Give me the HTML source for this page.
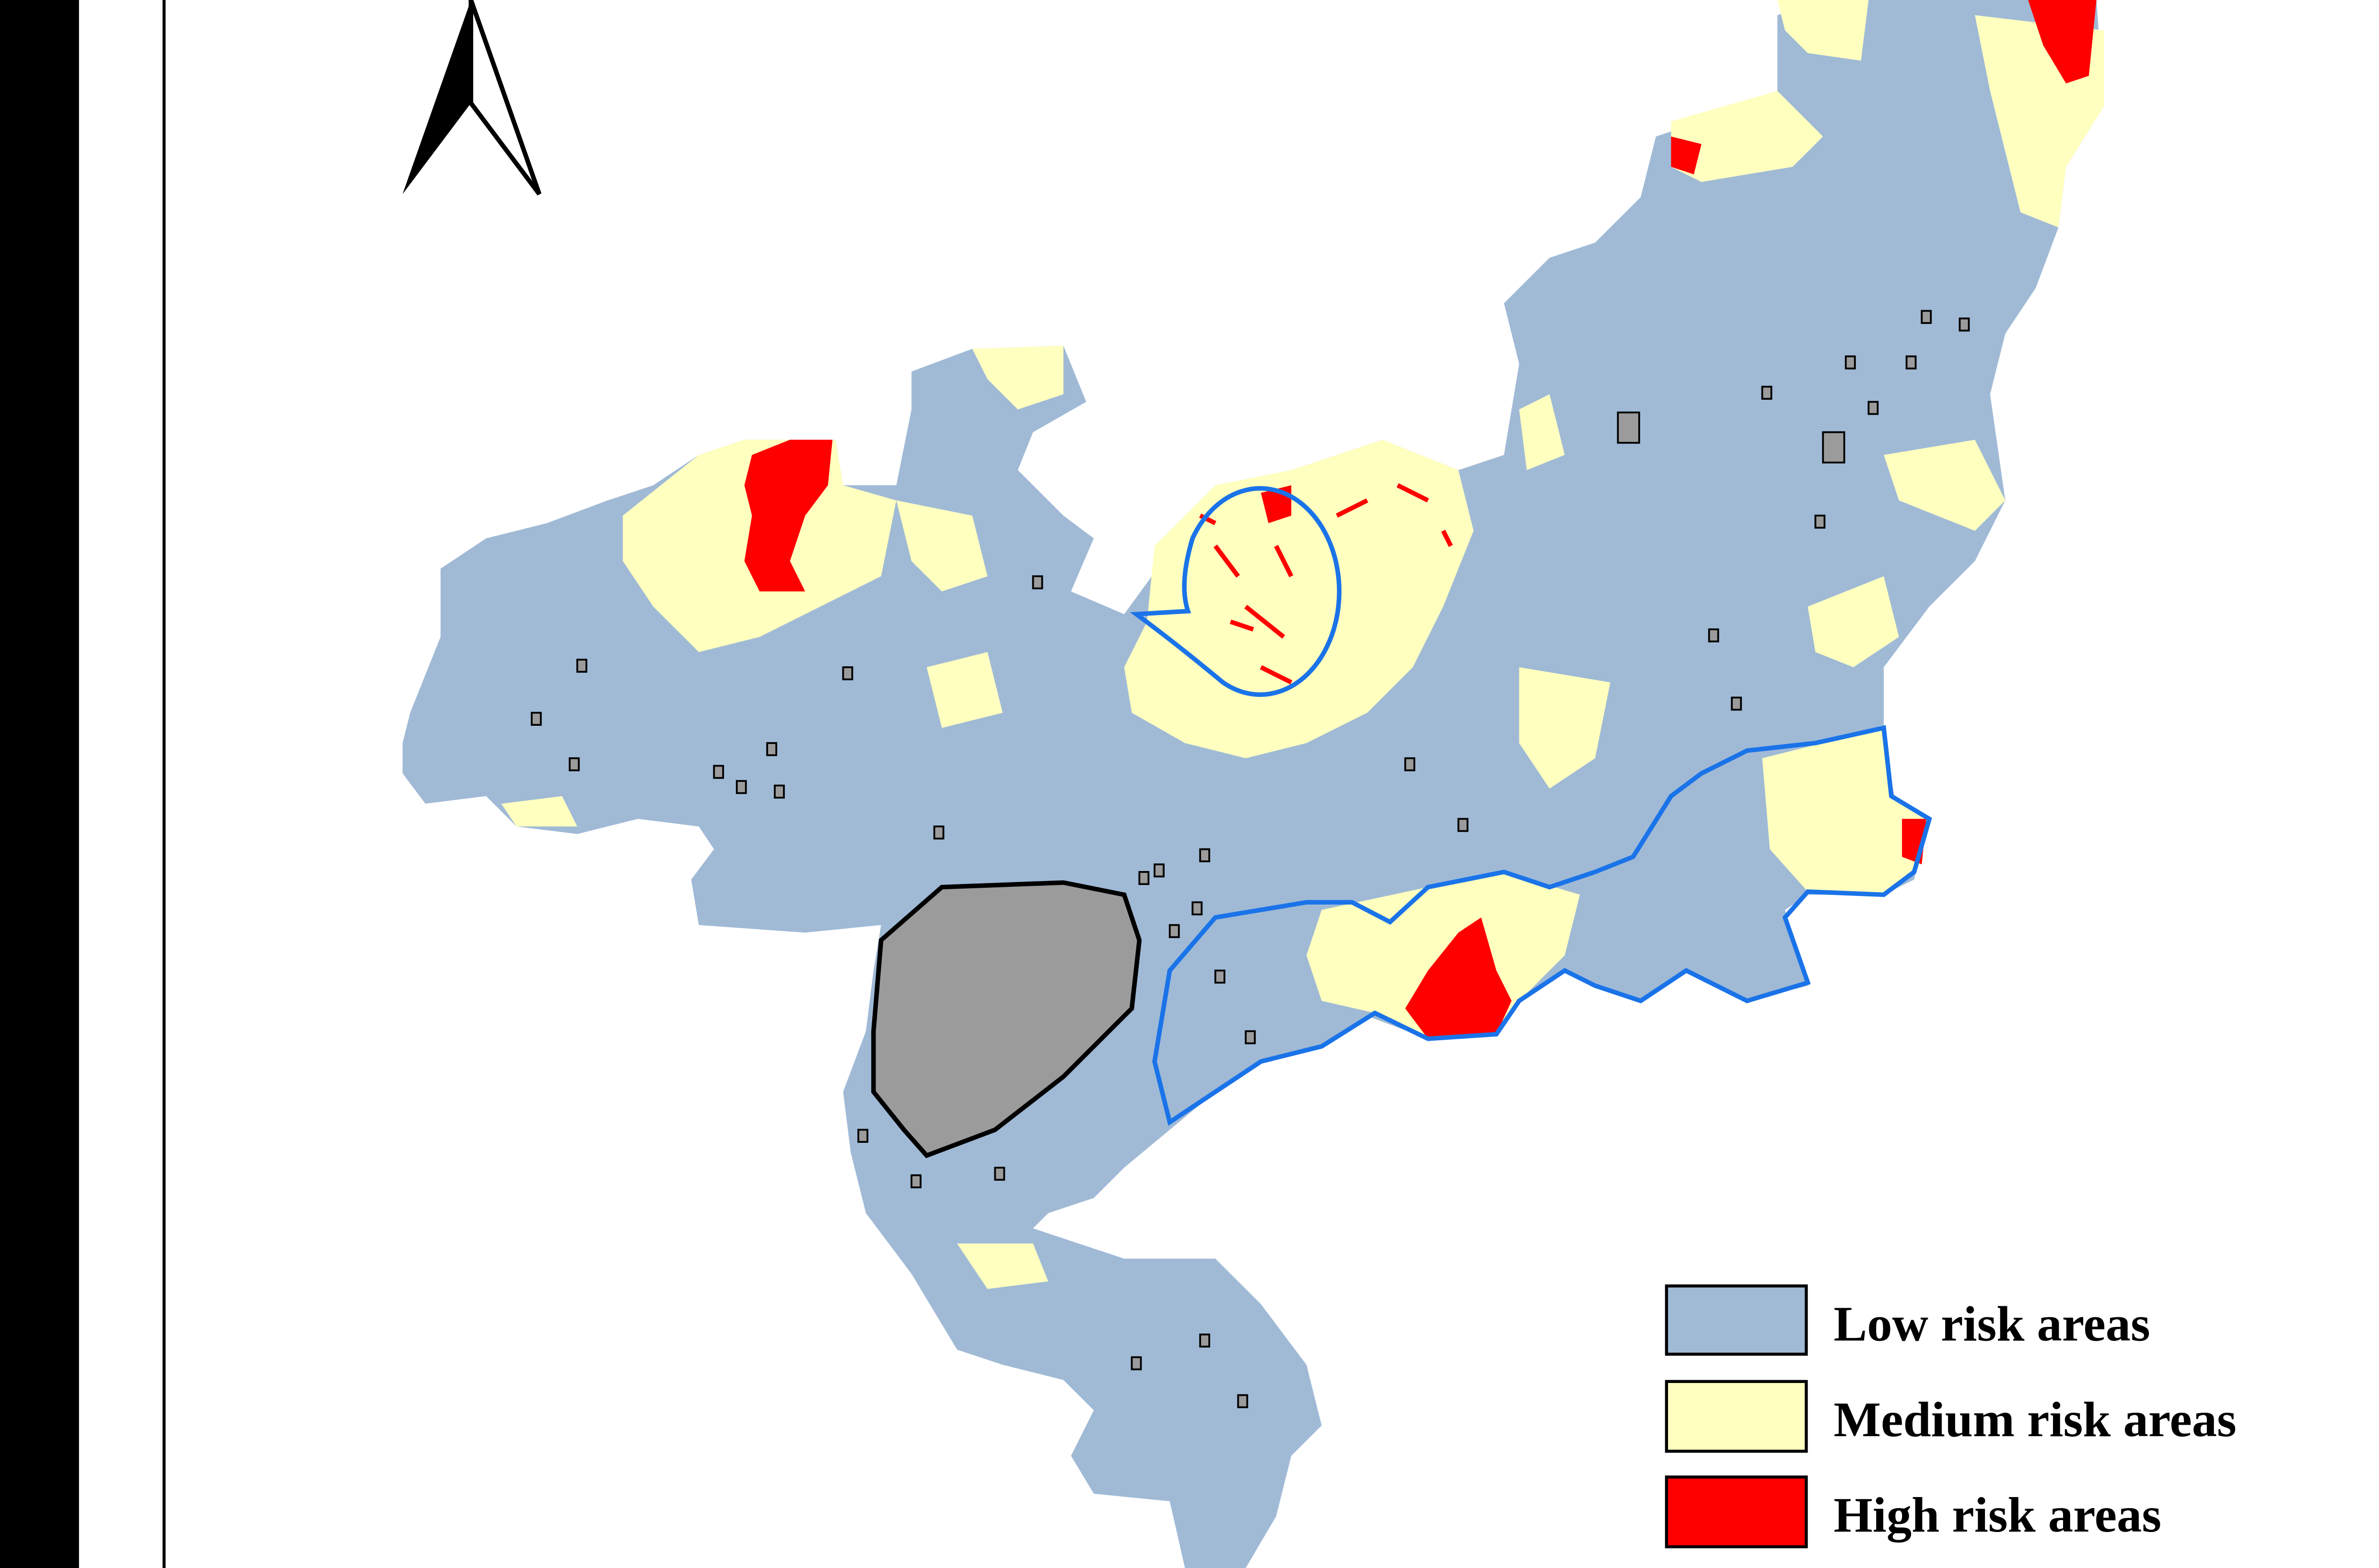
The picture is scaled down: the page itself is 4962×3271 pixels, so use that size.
<!DOCTYPE html>
<html><head><meta charset="utf-8"><style>
html,body{margin:0;padding:0;background:#fff;}
svg{display:block;}
</style></head><body>
<svg width="4962" height="3271" viewBox="0 0 1566 1034" preserveAspectRatio="none" xmlns="http://www.w3.org/2000/svg">
<rect x="0" y="0" width="1566" height="1034" fill="#fff"/>
<rect x="0" y="0" width="52" height="1034" fill="#000"/>
<line x1="108" y1="0" x2="108" y2="1034" stroke="#000" stroke-width="2"/>

<g>
<polygon points="310,0 265,128 310,68" fill="#000"/>
<polygon points="310,0 355,128 310,68" fill="#fff" stroke="#000" stroke-width="3"/>
</g>

<polygon fill="#a0bad6" points="265,490 270,470 290,420 290,375 320,355 360,345 400,330 430,320 460,300 490,290 550,290 555,320 590,320 600,270 600,245 640,230 700,228 715,265 680,285 670,310 700,340 720,355 705,390 740,405 780,350 800,320 850,310 880,300 910,290 960,310 990,300 1000,240 990,200 1020,170 1050,160 1080,130 1090,90 1120,80 1170,60 1170,10 1200,0 1380,0 1385,70 1360,110 1355,150 1340,190 1320,220 1310,260 1320,330 1300,370 1270,400 1240,440 1240,490 1250,540 1270,540 1260,580 1240,590 1190,590 1175,600 1190,650 1150,660 1110,640 1080,660 1050,650 1030,640 1000,660 980,680 940,685 900,670 870,690 830,700 800,720 770,745 740,770 720,790 690,800 680,810 740,830 800,830 830,860 860,900 870,940 850,960 840,1000 820,1034 780,1034 770,990 720,985 705,960 720,930 700,910 660,900 630,890 600,840 570,800 560,760 555,720 570,680 575,640 580,610 530,615 460,610 455,580 470,560 460,545 420,540 380,550 340,545 320,525 280,530 265,510"/>

<g fill="#ffffc0">
<polygon points="410,340 460,300 490,290 550,290 555,320 590,330 580,380 540,400 500,420 460,430 430,400 410,370"/>
<polygon points="590,330 640,340 650,380 620,390 600,370"/>
<polygon points="640,230 700,228 700,260 670,270 650,250"/>
<polygon points="760,360 800,320 850,310 880,300 910,290 960,310 970,350 950,400 930,440 900,470 860,490 820,500 780,490 745,470 740,440 755,410"/>
<polygon points="1100,80 1170,60 1200,90 1180,110 1120,120 1100,110"/>
<polygon points="1170,0 1230,0 1225,40 1190,35 1175,20"/>
<polygon points="1300,10 1385,20 1385,70 1360,110 1355,150 1330,140 1320,100 1310,60"/>
<polygon points="1240,300 1300,290 1320,330 1300,350 1250,330"/>
<polygon points="1190,400 1240,380 1250,420 1220,440 1195,430"/>
<polygon points="1000,440 1060,450 1050,500 1020,520 1000,490"/>
<polygon points="1160,500 1240,480 1245,525 1270,540 1260,575 1240,590 1190,588 1165,560"/>
<polygon points="870,600 940,585 990,575 1040,590 1030,630 1000,660 985,682 940,685 905,668 870,660 860,630"/>
<polygon points="630,820 680,820 690,845 650,850"/>
<polygon points="330,530 370,525 380,545 340,545"/>
<polygon points="1000,270 1020,260 1030,300 1005,310"/>
<polygon points="610,440 650,430 660,470 620,480"/>
</g>

<g fill="#f00">
<polygon points="495,300 520,290 548,290 545,320 530,340 520,370 530,390 500,390 490,370 495,340 490,320"/>
<polygon points="1335,0 1380,0 1375,50 1360,55 1345,30"/>
<polygon points="940,640 960,615 975,605 985,640 995,660 985,682 940,685 925,665"/>
<polygon points="1252,540 1268,540 1265,570 1252,565"/>
<polygon points="830,325 850,320 850,340 835,345"/>
<polygon points="1100,90 1120,95 1115,115 1100,110"/>
<path d="M800,360 L815,380 M820,400 L845,420 M830,440 L850,450 M790,340 L800,345 M840,360 L850,380 M810,410 L825,415 M880,340 L900,330 M920,320 L940,330 M950,350 L955,360" stroke="#f00" stroke-width="3"/>
</g>

<polygon fill="#9b9b9b" stroke="#000" stroke-width="3" points="620,585 700,582 740,590 750,620 745,665 700,710 655,745 610,762 595,745 575,720 575,680 580,620"/>

<g id="patches" fill="#9b9b9b" stroke="#000" stroke-width="1.2"></g>

<path d="M748,405 L782,403 Q776,385 785,355 A52,68 0 1,1 805,450 Q775,425 748,405 Z" fill="none" stroke="#1a73e8" stroke-width="3"/>
<polygon fill="none" stroke="#1a73e8" stroke-width="3" points="770,740 760,700 770,640 800,605 860,595 890,595 915,608 940,585 990,575 1020,585 1050,575 1075,565 1100,525 1120,510 1150,495 1195,490 1240,480 1245,525 1270,540 1260,575 1240,590 1190,588 1175,605 1190,648 1150,660 1110,640 1080,660 1050,650 1030,640 1000,660 985,682 940,685 905,668 870,690 830,700 800,720"/>

<g font-family="'Liberation Serif', serif" font-weight="bold" font-size="33" fill="#000">
<rect x="1097" y="848" width="92" height="45" fill="#a0bad6" stroke="#000" stroke-width="2"/>
<text x="1207" y="884">Low risk areas</text>
<rect x="1097" y="911" width="92" height="46" fill="#ffffc0" stroke="#000" stroke-width="2"/>
<text x="1207" y="947">Medium risk areas</text>
<rect x="1097" y="974" width="92" height="46" fill="#f00" stroke="#000" stroke-width="2"/>
<text x="1207" y="1010">High risk areas</text>
</g>
</svg>
<script>
const patchX=[1065,1200,380,350,375,485,510,760,790,770,1160,1230,1265,1290,555,615,680,925,960,745,815,790,1125,1140,1195,1215,1255,505,470,565,600,655,750,785,800,820];
const patchY=[272,285,435,470,500,515,518,570,560,610,255,265,205,210,440,545,380,500,540,895,920,880,415,460,340,235,235,490,505,745,775,770,575,595,640,680];
const g=document.getElementById('patches');
for(let i=0;i<patchX.length;i++){
  const r=document.createElementNS('http://www.w3.org/2000/svg','rect');
  r.setAttribute('x',patchX[i]);r.setAttribute('y',patchY[i]);
  const big=(i<2)?14:6;
  r.setAttribute('width',big);r.setAttribute('height',big+(i<2?6:2));
  
  
  g.appendChild(r);
}
</script>
</body></html>
